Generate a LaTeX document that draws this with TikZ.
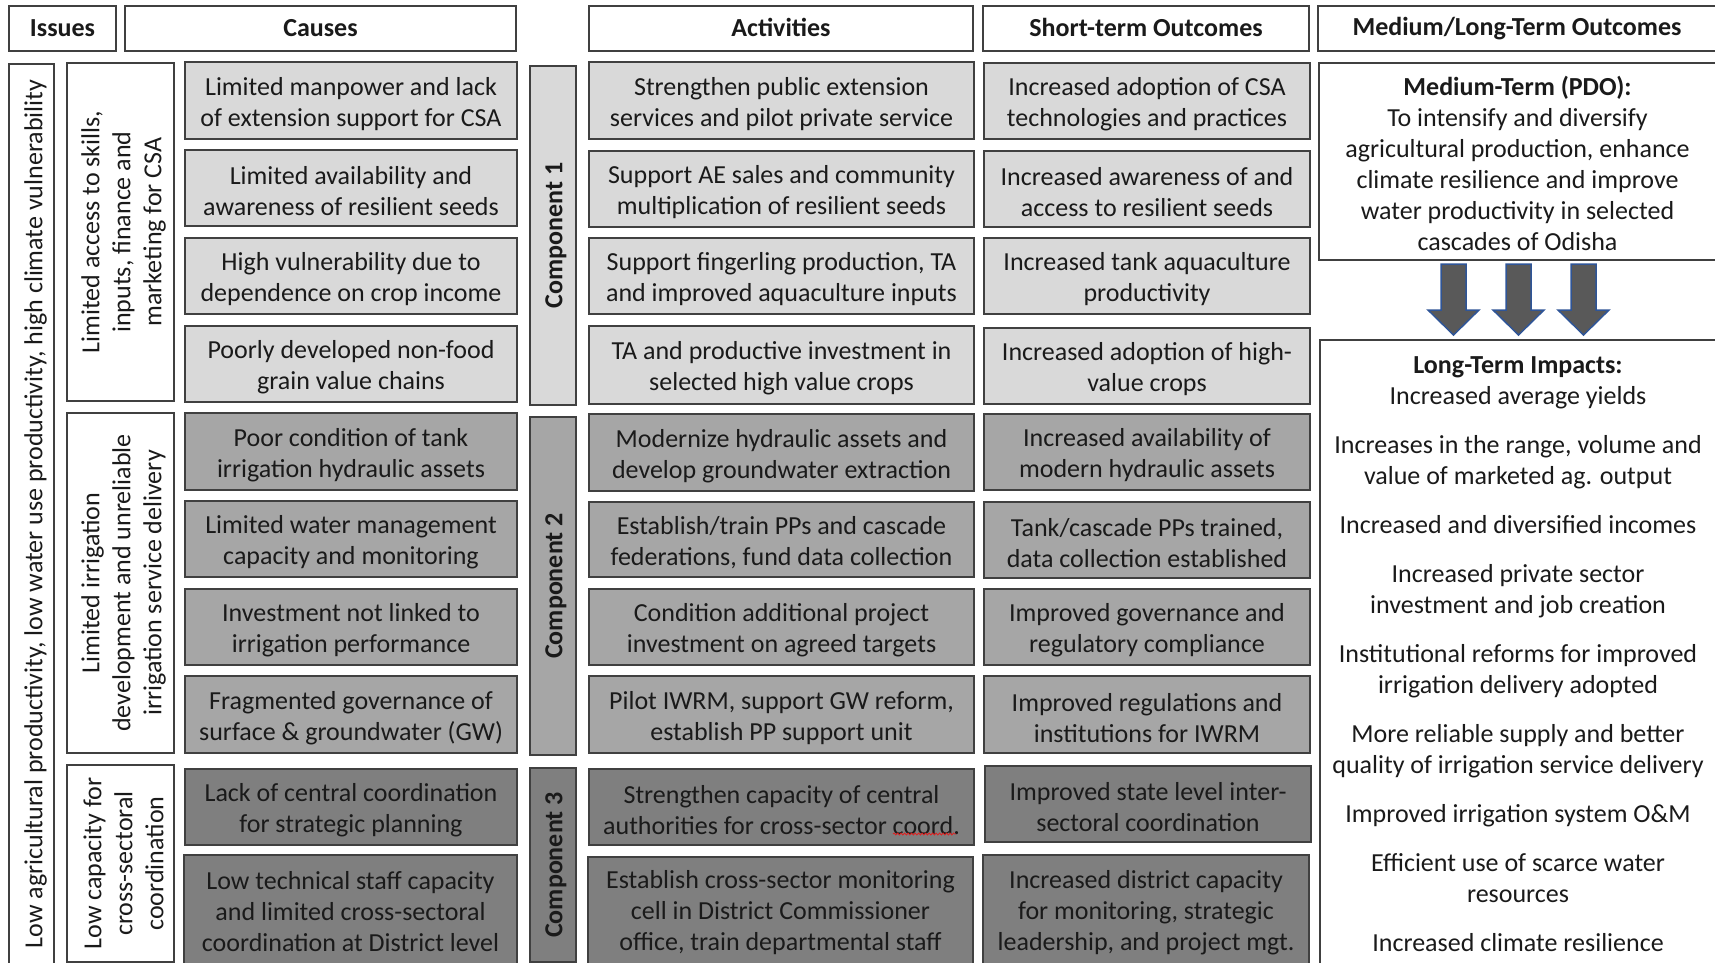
\documentclass[tikz,border=0pt]{standalone}
\usepackage{fontspec}
\usetikzlibrary{decorations.pathmorphing}
\setmainfont{Carlito}
\definecolor{lg}{HTML}{D9D9D9}
\definecolor{mg}{HTML}{A6A6A6}
\definecolor{dg}{HTML}{7F7F7F}
\definecolor{bd}{HTML}{404040}
\definecolor{tx}{HTML}{1A1A1A}
\definecolor{arf}{HTML}{595959}
\definecolor{arb}{HTML}{2F5597}
\definecolor{spell}{HTML}{E02020}
% name, x1, y1, x2, y2, box style, text style, text
\newcommand\mybox[8]{%
  \node[#6, minimum width={(#4-#2)*1pt}, minimum height={(#5-#3)*1pt}] (#1) at ({(#2+#4)/2},{(#3+#5)/2}) {};
  \node[#7] (#1t) at (#1.center) {#8};}
\tikzset{
  basebox/.style={draw=bd, line width=1.3pt, inner sep=0pt, outer sep=0pt},
  plainbox/.style={basebox, fill=white},
  fillL/.style={basebox, fill=lg},
  fillM/.style={basebox, fill=mg},
  fillD/.style={basebox, fill=dg},
  txt/.style={inner sep=0pt, outer sep=0pt, align=center, text=tx, font=\fontsize{26}{31}\selectfont},
  txtb/.style={txt, font=\fontsize{26}{31}\selectfont\bfseries},
  lowtxt/.style={txt, yshift=-3.3pt},
  vtxt/.style={txt, rotate=90, yshift=-3pt},
  vtxtb/.style={txtb, rotate=90, yshift=-3pt},
  blockarrow/.style={fill=arf, draw=arb, line width=1.5pt, line join=miter},
  squiggle/.style={draw=spell, line width=0.8pt, decorate, decoration={snake, segment length=3.5pt, amplitude=1pt}},
}
\begin{document}
\begin{tikzpicture}[x=1pt,y=-1pt]
\useasboundingbox (0,0) rectangle (1715,962);
\clip (0,0) rectangle (1715,962);
% headers
\mybox{hI}{9}{6}{116}{51}{plainbox}{txtb}{Issues}
\mybox{hC}{125}{6}{516}{51}{plainbox}{txtb}{Causes}
\mybox{hA}{589}{6}{973}{51}{plainbox}{txtb, yshift=0.8pt}{Activities}
\mybox{hS}{983}{6}{1309}{51}{plainbox}{txtb, yshift=0.8pt}{Short-term Outcomes}
\mybox{hM}{1318}{6}{1716}{51}{plainbox}{txtb, yshift=-0.5pt}{Medium/Long-Term Outcomes}
% issues
\mybox{iss}{9}{64}{54}{964}{plainbox}{vtxt, yshift=-1pt}{Low agricultural productivity, low water use productivity, high climate vulnerability}
\mybox{sub1}{67}{63}{174}{401}{plainbox}{vtxt}{Limited access to skills,\\inputs, finance and\\marketing for CSA}
\mybox{sub2}{67}{413}{174}{753}{plainbox}{vtxt}{Limited irrigation\\development and unreliable\\irrigation service delivery}
\mybox{sub3}{67}{765}{174}{962}{plainbox}{vtxt}{Low capacity for\\cross-sectoral\\coordination}
% causes
\mybox{k1}{185}{62}{517}{139}{fillL}{lowtxt}{Limited manpower and lack\\of extension support for CSA}
\mybox{k2}{185}{150}{517}{226}{fillL}{lowtxt}{Limited availability and\\awareness of resilient seeds}
\mybox{k3}{185}{238}{517}{314}{fillL}{lowtxt}{High vulnerability due to\\dependence on crop income}
\mybox{k4}{185}{326}{517}{402}{fillL}{lowtxt}{Poorly developed non-food\\grain value chains}
\mybox{k5}{185}{413}{517}{490}{fillM}{lowtxt}{Poor condition of tank\\irrigation hydraulic assets}
\mybox{k6}{185}{501}{517}{577}{fillM}{lowtxt}{Limited water management\\capacity and monitoring}
\mybox{k7}{185}{589}{517}{665}{fillM}{lowtxt}{Investment not linked to\\irrigation performance}
\mybox{k8}{185}{676}{517}{753}{fillM}{lowtxt}{Fragmented governance of\\surface \& groundwater (GW)}
\mybox{k9}{185}{769}{517}{845}{fillD}{lowtxt}{Lack of central coordination\\for strategic planning}
\mybox{k10}{184}{855}{517}{965}{fillD}{txt, yshift=-1.5pt}{Low technical staff capacity\\and limited cross-sectoral\\coordination at District level}
% components
\mybox{comp1}{530}{66}{576}{405}{fillL}{vtxtb}{Component 1}
\mybox{comp2}{530}{417}{576}{755}{fillM}{vtxtb}{Component 2}
\mybox{comp3}{530}{768}{576}{962}{fillD}{vtxtb}{Component 3}
% activities
\mybox{a1}{589}{62}{974}{139}{fillL}{lowtxt}{Strengthen public extension\\services and pilot private service}
\mybox{a2}{589}{151}{974}{227}{fillL}{lowtxt}{Support AE sales and community\\multiplication of resilient seeds}
\mybox{a3}{589}{238}{974}{314}{fillL}{lowtxt}{Support fingerling production, TA\\and improved aquaculture inputs}
\mybox{a4}{589}{326}{974}{404}{fillL}{lowtxt}{TA and productive investment in\\selected high value crops}
\mybox{a5}{589}{414}{974}{491}{fillM}{lowtxt}{Modernize hydraulic assets and\\develop groundwater extraction}
\mybox{a6}{589}{502}{974}{577}{fillM}{lowtxt}{Establish/train PPs and cascade\\federations, fund data collection}
\mybox{a7}{589}{589}{974}{665}{fillM}{lowtxt}{Condition additional project\\investment on agreed targets}
\mybox{a8}{589}{676}{974}{753}{fillM}{lowtxt}{Pilot IWRM, support GW reform,\\establish PP support unit}
\mybox{a9}{589}{769}{974}{845}{fillD}{lowtxt}{Strengthen capacity of central\\authorities for cross-sector coord.}
\mybox{a10}{588}{857}{973}{964}{fillD}{txt, yshift=-2.5pt}{Establish cross-sector monitoring\\cell in District Commissioner\\office, train departmental staff}
% spell-check underline under "coord."
\coordinate (sqA) at (893,834);
\coordinate (sqB) at (956,834);
\draw[squiggle] (sqA) -- (sqB);
% short-term outcomes
\mybox{s1}{984}{63}{1310}{139}{fillL}{lowtxt}{Increased adoption of CSA\\technologies and practices}
\mybox{s2}{984}{151}{1310}{227}{fillL}{lowtxt}{Increased awareness of and\\access to resilient seeds}
\mybox{s3}{984}{238}{1310}{314}{fillL}{lowtxt}{Increased tank aquaculture\\productivity}
\mybox{s4}{984}{328}{1310}{404}{fillL}{lowtxt}{Increased adoption of high-\\value crops}
\mybox{s5}{984}{414}{1310}{490}{fillM}{lowtxt}{Increased availability of\\modern hydraulic assets}
\mybox{s6}{984}{502}{1310}{578}{fillM}{lowtxt}{Tank/cascade PPs trained,\\data collection established}
\mybox{s7}{984}{589}{1310}{665}{fillM}{lowtxt}{Improved governance and\\regulatory compliance}
\mybox{s8}{984}{676}{1310}{753}{fillM}{lowtxt}{Improved regulations and\\institutions for IWRM}
\mybox{s9}{985}{766}{1311}{842}{fillD}{lowtxt}{Improved state level inter-\\sectoral coordination}
\mybox{s10}{983}{855}{1309}{965}{fillD}{txt, yshift=-2.5pt}{Increased district capacity\\for monitoring, strategic\\leadership, and project mgt.}
% medium / long term
\mybox{mt}{1319}{63}{1716}{260}{plainbox}{txt, yshift=-2pt}{\textbf{Medium-Term (PDO):}\\To intensify and diversify\\agricultural production, enhance\\climate resilience and improve\\water productivity in selected\\cascades of Odisha}
\mybox{lt}{1320}{340}{1716}{966}{plainbox}{txt, yshift=-1pt}{\textbf{Long-Term Impacts:}\\Increased average yields\\[18pt]Increases in the range, volume and\\value of marketed ag. output\\[18pt]Increased and diversified incomes\\[18pt]Increased private sector\\investment and job creation\\[18pt]Institutional reforms for improved\\irrigation delivery adopted\\[18pt]More reliable supply and better\\quality of irrigation service delivery\\[18pt]Improved irrigation system O\&M\\[18pt]Efficient use of scarce water\\resources\\[18pt]Increased climate resilience}
% block arrows from medium-term box to long-term box
\foreach \cx in {1453.5,1518.5,1583.5}{
  \draw[blockarrow] (\cx-12.5,264) -- (\cx+12.5,264) -- (\cx+12.5,310) -- (\cx+25.5,310)
    -- (\cx,335) -- (\cx-25.5,310) -- (\cx-12.5,310) -- cycle;
}
\end{tikzpicture}
\end{document}
